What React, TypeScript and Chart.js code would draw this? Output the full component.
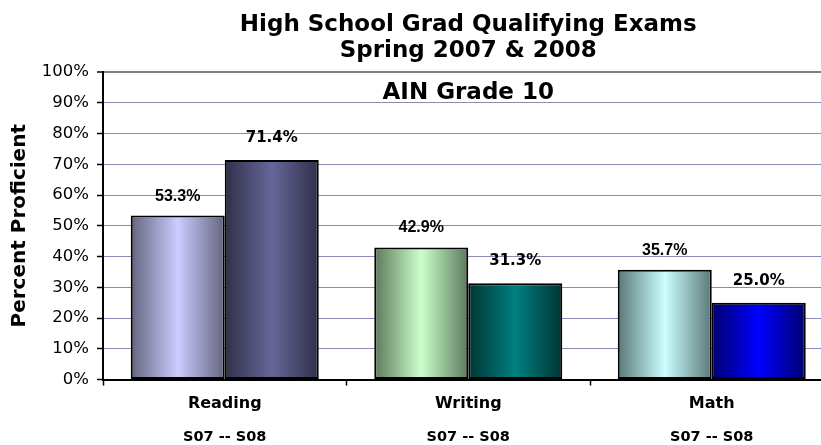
import { useEffect, useRef } from 'react';
import { Chart, registerables } from 'chart.js';

Chart.register(...registerables);

// ---- data ----
const categories = ['Reading', 'Writing', 'Math'];
const subLabels = ['S07 -- S08', 'S07 -- S08', 'S07 -- S08'];
const seriesNames = ['Spring 2007', 'Spring 2008'];
const s07Values = [53.3, 42.9, 35.7];
const s08Values = [71.4, 31.3, 25.0];
const titleLines = ['High School Grad Qualifying Exams', 'Spring 2007 & 2008'];
const titleLine3 = 'AIN Grade 10';
const yAxisTitle = 'Percent Proficient';

// ---- styles ----
const s07Light = ['#ccccff', '#ccffcc', '#ccffff'];
const s07Dark = ['#64647f', '#5c7a5c', '#5a7878'];
const s08Mid = ['#666699', '#008080', '#0000ff'];
const s08Dark = ['#30304a', '#003434', '#000070'];
const CAT_PCT = 0.772;
const labelFonts = ['bold 16px "Liberation Sans"', 'bold 15px "DejaVu Sans"'];
const labelLift = [19.5, 22];

function barFill(lights: string[], darks: string[], di: number) {
  return (c: any) => {
    const chart = c.chart;
    const xs = chart.scales && chart.scales.x;
    const i = c.dataIndex ?? 0;
    if (!xs || !chart.chartArea || c.type !== 'data') return lights[i];
    const catW = xs.width / categories.length;
    const barW = (catW * CAT_PCT) / 2;
    const center = xs.getPixelForValue(i);
    const left = center - barW + di * barW;
    const g = chart.ctx.createLinearGradient(left, 0, left + barW, 0);
    g.addColorStop(0, darks[i]);
    g.addColorStop(0.5, lights[i]);
    g.addColorStop(1, darks[i]);
    return g;
  };
}

const valueLabels = {
  id: 'valueLabels',
  afterDatasetsDraw(chart: any) {
    const ctx = chart.ctx;
    chart.data.datasets.forEach((ds: any, di: number) => {
      const meta = chart.getDatasetMeta(di);
      meta.data.forEach((bar: any, i: number) => {
        const v = ds.data[i];
        ctx.save();
        ctx.font = labelFonts[di];
        ctx.fillStyle = '#000';
        ctx.textAlign = 'center';
        ctx.textBaseline = 'middle';
        ctx.fillText(v.toFixed(1) + '%', bar.x, bar.y - labelLift[di]);
        ctx.restore();
      });
    });
  },
};

const thirdTitle = {
  id: 'thirdTitle',
  afterDraw(chart: any) {
    const { ctx, chartArea } = chart;
    ctx.save();
    ctx.font = 'bold 23px "DejaVu Sans"';
    ctx.fillStyle = '#000';
    ctx.textAlign = 'center';
    ctx.textBaseline = 'alphabetic';
    ctx.fillText(titleLine3, (chartArea.left + chartArea.right) / 2, chartArea.top + 27);
    ctx.restore();
  },
};

export default function App() {
  const ref = useRef<HTMLCanvasElement>(null);

  useEffect(() => {
    if (!ref.current) return;
    Chart.defaults.font.family = '"DejaVu Sans"';
    const chart = new Chart(ref.current, {
      type: 'bar',
      data: {
        labels: categories,
        datasets: [
          {
            label: seriesNames[0],
            data: s07Values,
            backgroundColor: barFill(s07Light, s07Dark, 0),
            borderColor: '#000',
            borderWidth: 2,
            borderSkipped: false,
            categoryPercentage: CAT_PCT,
            barPercentage: 1,
          },
          {
            label: seriesNames[1],
            data: s08Values,
            backgroundColor: barFill(s08Mid, s08Dark, 1),
            borderColor: '#000',
            borderWidth: 2,
            borderSkipped: false,
            categoryPercentage: CAT_PCT,
            barPercentage: 1,
          },
        ],
      },
      options: {
        animation: false,
        responsive: true,
        maintainAspectRatio: false,
        layout: { padding: { left: 0, right: 16.5, top: 0, bottom: 2 } },
        plugins: {
          legend: { display: false },
          tooltip: { enabled: false },
          title: {
            display: true,
            text: titleLines,
            fullSize: false,
            color: '#000',
            font: { family: '"DejaVu Sans"', size: 23, weight: 'bold', lineHeight: 26 / 23 },
            padding: { top: 12.5, bottom: 7.5 },
          },
        },
        scales: {
          x: {
            type: 'category',
            position: 'bottom',
            weight: 0,
            offset: true,
            afterFit: (scale: any) => {
              scale.height = 32;
            },
            grid: {
              display: true,
              drawOnChartArea: false,
              drawTicks: true,
              tickLength: 6,
              tickColor: '#000',
              tickWidth: 1.5,
              offset: true,
            },
            border: { display: true, color: '#000', width: 2 },
            ticks: {
              color: '#000',
              padding: 8.5,
              font: { family: '"DejaVu Sans"', size: 16, weight: 'bold' },
              maxRotation: 0,
            },
          },
          x2: {
            type: 'category',
            position: 'bottom',
            weight: 1,
            labels: subLabels,
            offset: true,
            afterFit: (scale: any) => {
              scale.height = 31.5;
            },
            grid: { display: false },
            border: { display: false },
            ticks: {
              color: '#000',
              padding: 9,
              font: { family: '"DejaVu Sans"', size: 14.5, weight: 'bold' },
              maxRotation: 0,
            },
          },
          y: {
            min: 0,
            max: 100,
            afterFit: (scale: any) => {
              scale.width = 103;
            },
            ticks: {
              stepSize: 10,
              color: '#000',
              padding: 8,
              font: { family: '"DejaVu Sans"', size: 16.5 },
              callback: (v: any) => v + '%',
            },
            grid: {
              color: (c: any) => (c.tick && c.tick.value === 100 ? '#808080' : '#8a8ab4'),
              lineWidth: (c: any) => (c.tick && c.tick.value === 100 ? 2 : 1),
              tickColor: '#000',
              tickLength: 6,
              tickWidth: 1.5,
            },
            border: { display: true, color: '#000', width: 2 },
            title: {
              display: true,
              text: yAxisTitle,
              color: '#000',
              font: { family: '"DejaVu Sans"', size: 20, weight: 'bold' },
              padding: { top: 7.5, bottom: 0 },
            },
          },
        },
      },
      plugins: [valueLabels, thirdTitle],
    });
    return () => chart.destroy();
  }, []);

  return (
    <div
      style={{
        position: 'absolute',
        left: 0,
        top: 0,
        width: 821,
        height: 445,
        overflow: 'hidden',
        background: '#fff',
      }}
    >
      <div style={{ position: 'relative', width: 850, height: 445 }}>
        <canvas ref={ref} />
      </div>
    </div>
  );
}
